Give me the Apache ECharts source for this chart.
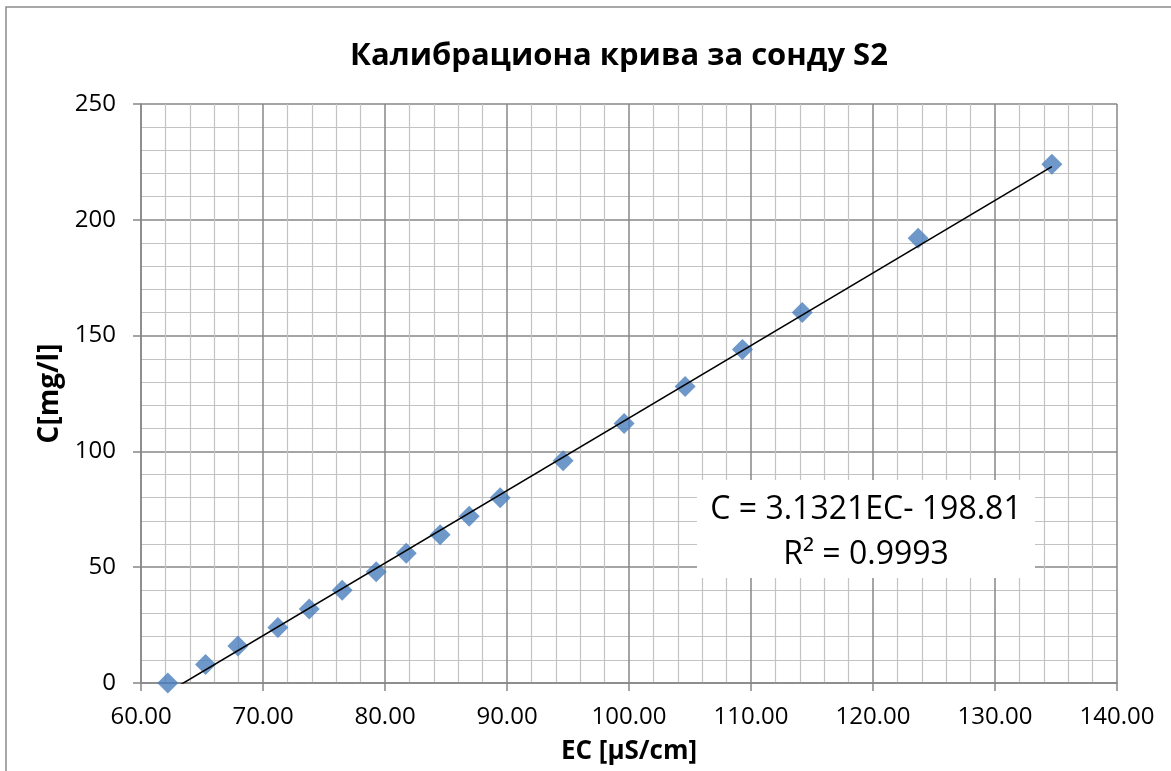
<!DOCTYPE html>
<html>
<head>
<meta charset="utf-8">
<title>Калибрациона крива за сонду S2</title>
<script src="https://cdn.jsdelivr.net/npm/echarts@6/dist/echarts.min.js"></script>
<style>
  html, body { margin: 0; padding: 0; background: #fff; }
  #chart { width: 1171px; height: 771px; }
</style>
</head>
<body>
<div id="chart"></div>
<script>
// Measured conductivity EC [µS/cm] and matching concentration C [mg/l]
const ecValues = [62.2, 65.29, 67.94, 71.22, 73.79, 76.49, 79.28, 81.74, 84.52, 86.9,
                  89.44, 94.6, 99.6, 104.6, 109.3, 114.2, 123.7, 134.66];
const cValues  = [0, 8, 16, 24, 32, 40, 48, 56, 64, 72,
                  80, 96, 112, 128, 144, 160, 192, 224];

// Linear fit shown on the chart
const slope = 3.1321;
const intercept = -198.81;
const rSquared = 0.9993;

// Axis ranges
const xRange = [60, 140];
const yRange = [0, 250];

const FONT = '"Open Sans", "Noto Sans", sans-serif';

const points = ecValues.map((x, i) => [x, cValues[i]]);
const xMin = Math.min(...ecValues), xMax = Math.max(...ecValues);
const trend = [[xMin, slope * xMin + intercept], [xMax, slope * xMax + intercept]];

const chart = echarts.init(document.getElementById('chart'), null, { renderer: 'canvas' });

const majorLine = { color: '#878787', width: 1.5 };
const minorLine = { color: '#c3c3c3', width: 1.2 };

chart.setOption({
  animation: false,
  backgroundColor: '#fff',
  title: {
    text: 'Калибрациона крива за сонду S2',
    left: 614, top: 36,
    textAlign: 'center',
    textStyle: { fontFamily: FONT, fontWeight: 'bold', fontSize: 31, color: '#000' }
  },
  grid: { left: 141, top: 104, right: 54, bottom: 88 },
  xAxis: {
    type: 'value',
    min: xRange[0], max: xRange[1], interval: 10,
    name: 'EC [µS/cm]',
    nameLocation: 'middle', nameGap: 56,
    nameTextStyle: { fontFamily: FONT, fontWeight: 'bold', fontSize: 26, color: '#000' },
    axisLine: { show: true, lineStyle: majorLine },
    axisTick: { show: true, length: 8, lineStyle: majorLine },
    axisLabel: {
      fontFamily: FONT, fontSize: 24, color: '#000', margin: 22,
      formatter: v => v.toFixed(2)
    },
    splitLine: { show: true, lineStyle: majorLine },
    minorTick: { show: false, splitNumber: 5 },
    minorSplitLine: { show: true, lineStyle: minorLine }
  },
  yAxis: {
    type: 'value',
    min: yRange[0], max: yRange[1], interval: 50,
    name: 'C[mg/l]',
    nameLocation: 'middle', nameGap: 74, nameRotate: 90,
    nameTextStyle: { fontFamily: FONT, fontWeight: 'bold', fontSize: 28, color: '#000' },
    axisLine: { show: true, lineStyle: majorLine },
    axisTick: { show: true, length: 8, lineStyle: majorLine },
    axisLabel: { fontFamily: FONT, fontSize: 24, color: '#000', margin: 25 },
    splitLine: { show: true, lineStyle: majorLine },
    minorTick: { show: false, splitNumber: 5 },
    minorSplitLine: { show: true, lineStyle: minorLine }
  },
  series: [
    {
      name: 'C',
      type: 'scatter',
      data: points,
      symbol: 'diamond',
      symbolSize: 21,
      itemStyle: { color: '#4a7ebb' },
      z: 3
    },
    {
      name: 'Linear (C)',
      type: 'line',
      data: trend,
      showSymbol: false,
      symbol: 'none',
      clip: true,
      lineStyle: { color: '#000', width: 1.6 },
      z: 4
    }
  ],
  graphic: [
    {
      type: 'rect',
      shape: { x: 6, y: 7, width: 1200, height: 800 },
      style: { fill: 'none', stroke: '#8c8c8c', lineWidth: 1.5 },
      z: 100, silent: true
    },
    {
      type: 'rect',
      shape: { x: 697, y: 480, width: 338, height: 98 },
      style: { fill: '#fff' },
      z: 50, silent: true
    },
    {
      type: 'text',
      x: 866, y: 510,
      style: {
        text: 'C = ' + slope.toFixed(4) + 'EC- ' + Math.abs(intercept).toFixed(2),
        fontFamily: FONT, fontSize: 32, fill: '#000',
        textAlign: 'center', textVerticalAlign: 'middle'
      },
      z: 51, silent: true
    },
    {
      type: 'text',
      x: 866, y: 555,
      style: {
        text: 'R² = ' + rSquared.toFixed(4),
        fontFamily: FONT, fontSize: 32, fill: '#000',
        textAlign: 'center', textVerticalAlign: 'middle'
      },
      z: 51, silent: true
    }
  ]
});
</script>
</body>
</html>
